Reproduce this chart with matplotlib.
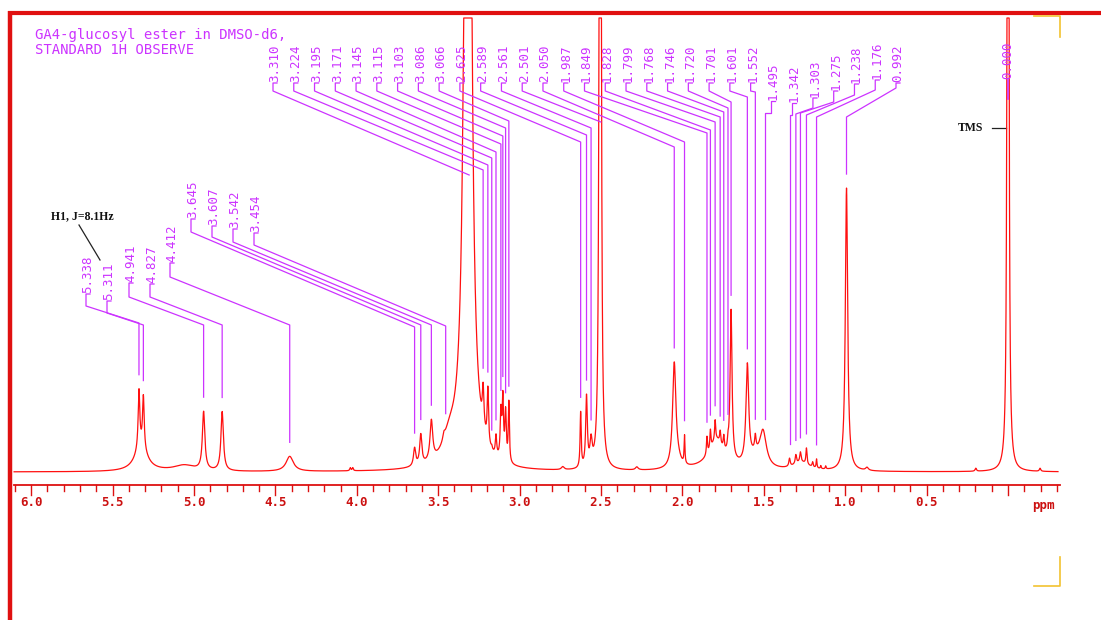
import numpy as np
import matplotlib.pyplot as plt

# --- peaks: centre (ppm), height (px above baseline), half width (ppm)
pk_ppm = [5.338, 5.311, 5.325, 5.06,
          4.941, 4.827, 4.412, 4.040, 4.025,
          3.645, 3.607, 3.542, 3.465, 3.43,
          3.318,
          3.224, 3.195, 3.171, 3.145, 3.115, 3.103, 3.086, 3.066,
          2.735, 2.625, 2.589, 2.561, 2.505, 2.28,
          2.050, 2.03, 1.987,
          1.849, 1.828, 1.799, 1.768, 1.746, 1.720, 1.79, 1.80, 1.701,
          1.601, 1.552, 1.555, 1.505,
          1.342, 1.303, 1.275, 1.238, 1.20, 1.176, 1.27, 1.15, 1.12,
          0.992, 0.866, 0.198, 0.0, -0.197]
pk_height = [58, 52, 24, 6,
             58, 59, 15, 3, 3,
             18, 30, 40, 6, 22,
             1680,
             40, 55, 3, 20, 45, 60, 48, 60,
             3, 55, 70, 24, 7500, 3,
             103, 7, 28,
             18, 19, 20, 12, 13, 8, 24, 6, 150,
             98, 14, 10, 35,
             8, 9, 10, 16, 5, 9, 8, 3, 3,
             283, 3, 3, 4000, 3]
pk_width = [0.006, 0.006, 0.045, 0.08,
            0.009, 0.009, 0.027, 0.004, 0.004,
            0.008, 0.008, 0.010, 0.008, 0.05,
            0.0158,
            0.006, 0.005, 0.004, 0.005, 0.005, 0.005, 0.005, 0.004,
            0.010, 0.004, 0.006, 0.008, 0.002, 0.010,
            0.012, 0.025, 0.003,
            0.004, 0.004, 0.004, 0.004, 0.004, 0.004, 0.05, 0.12, 0.007,
            0.010, 0.005, 0.04, 0.025,
            0.005, 0.005, 0.005, 0.004, 0.004, 0.003, 0.06, 0.003, 0.003,
            0.0085, 0.010, 0.005, 0.0025, 0.005]

# picked shifts
shifts_top = ['3.310', '3.224', '3.195', '3.171', '3.145', '3.115', '3.103', '3.086',
              '3.066', '2.625', '2.589', '2.561', '2.501', '2.050', '1.987', '1.849',
              '1.828', '1.799', '1.768', '1.746', '1.720', '1.701', '1.601', '1.552',
              '1.495', '1.342', '1.303', '1.275', '1.238', '1.176', '0.992']
shifts_low = ['5.338', '5.311', '4.941', '4.827', '4.412', '3.645', '3.607', '3.542', '3.454']
tick_major = [6.0, 5.5, 5.0, 4.5, 4.0, 3.5, 3.0, 2.5, 2.0, 1.5, 1.0, 0.5]

# --- label layout (pixel rows in the 1101x620 picture)
top_text_bottom = [82] * 24 + [100, 102, 97, 90, 83, 79, 82]
top_stub = [91] * 24 + [113, 115, 108, 102, 95, 90, 88]
top_knee = [175, 170, 165, 158, 152, 144, 136, 128, 121, 142, 135, 128, 122, 147, 142,
            133, 130, 122, 117, 112, 108, 102, 97, 92, 113, 115, 114, 113, 115, 117, 117]
low_x_px = [88, 109, 131, 152, 172, 193, 214, 235, 256]
low_text_bottom = [293, 300, 282, 283, 262, 218, 225, 228, 232]
low_stub = [306, 313, 297, 297, 277, 232, 237, 242, 245]
low_knee = [323, 325, 325, 325, 325, 327, 325, 325, 326]

PX = 162.8          # pixels per ppm
X0 = 1008.0         # pixel column of 0 ppm
BASE = 472.0        # pixel row of the baseline
CLIP = 454.0        # off-scale peaks are cut flat here


def ppm_of(xpx):
    return (X0 - xpx) / PX


def hgt(ypx):
    return BASE - ypx


MAG = '#CC33FF'
RED = '#FF1010'

# spectrum from the peak list
x = np.linspace(6.105, -0.307, 14000)
y = np.zeros_like(x)
for c, h, w in zip(pk_ppm, pk_height, pk_width):
    y += h * w**2 / (w**2 + (x - c)**2)
y = np.minimum(y, CLIP)

fig = plt.figure(figsize=(11.01, 6.20), dpi=100)
deco = fig.add_axes([0, 0, 1, 1])
deco.set_xlim(0, 1101)
deco.set_ylim(620, 0)
deco.axis('off')
ax = fig.add_axes([0, 0, 1, 1])
ax.set_xlim(ppm_of(0), ppm_of(1101))
ax.set_ylim(hgt(620), hgt(0))
ax.axis('off')

# frame like the printout
deco.plot([8, 1101], [13, 13], color='#E01010', lw=3.0, solid_capstyle='butt')
deco.plot([10, 10], [11, 620], color='#E01010', lw=3.2, solid_capstyle='butt')
yel = '#F2C230'
deco.plot([1034, 1060, 1060], [16, 16, 37], color=yel, lw=1.2)
deco.plot([1060, 1060, 1034], [557, 586, 586], color=yel, lw=1.2)

ax.plot(x, y, color=RED, lw=0.9, zorder=3)

# axis
ax.plot([6.105, -0.32], [hgt(485), hgt(485)], color='#DD1111', lw=1.3)
minor = np.round(np.arange(6.1, -0.35, -0.1), 1)
for t in minor:
    tall = abs(t * 2 - round(t * 2)) < 1e-6
    ax.plot([t, t], [hgt(485), hgt(495 if tall else 491)], color='#DD1111', lw=1.0)
for t in tick_major:
    ax.text(t, hgt(503), f'{t:.1f}', ha='center', va='center', color='#CC1111',
            fontsize=9, family='DejaVu Sans Mono', fontweight='bold')
ax.text(ppm_of(1043), hgt(505), 'ppm', ha='center', va='center', color='#CC1111',
        fontsize=9, family='DejaVu Sans Mono', fontweight='bold')

# title
deco.text(35, 35, 'GA4-glucosyl ester in DMSO-d6,', color=MAG, fontsize=10,
          family='DejaVu Sans Mono', va='center', ha='left')
deco.text(35, 50, 'STANDARD 1H OBSERVE', color=MAG, fontsize=10,
          family='DejaVu Sans Mono', va='center', ha='left')


def local_top(p):
    sel = np.abs(x - p) < 0.003
    return y[sel].max()


def draw_label(txt, xt, yb, ys, yk):
    p = float(txt)
    xs = xt + 2 / PX
    ax.text(xt, hgt(yb), txt, rotation=90, ha='center', va='bottom', color=MAG,
            fontsize=9, family='DejaVu Sans Mono', zorder=5)
    end = BASE - (local_top(p) + 14)
    xs_line = [xt - 2 / PX, xs, xs, p]
    ys_line = [yb + 1, yb + 1, ys, yk]
    if end > yk + 1:
        xs_line.append(p)
        ys_line.append(end)
    ax.plot(xs_line, [hgt(v) for v in ys_line], color=MAG, lw=0.9, zorder=4)


top_x = np.linspace(ppm_of(275), ppm_of(898), len(shifts_top))
for i, s in enumerate(shifts_top):
    draw_label(s, top_x[i], top_text_bottom[i], top_stub[i], top_knee[i])
for i, s in enumerate(shifts_low):
    draw_label(s, ppm_of(low_x_px[i]), low_text_bottom[i], low_stub[i], low_knee[i])

# TMS label sits on its own peak
ax.text(0.0, hgt(79), '0.000', rotation=90, ha='center', va='bottom', color=MAG,
        fontsize=9, family='DejaVu Sans Mono', zorder=5)
ax.plot([0.0, 0.0], [hgt(80), hgt(99)], color=MAG, lw=1.2, zorder=5)

# hand annotations
ax.text(ppm_of(82), hgt(216), 'H1, J=8.1Hz', ha='center', va='center', color='#111111',
        fontsize=8.5, family='Liberation Serif', fontweight='bold')
ax.plot([ppm_of(79), ppm_of(100)], [hgt(225), hgt(260)], color='#222222', lw=0.9)
ax.text(ppm_of(971), hgt(128), 'TMS', ha='center', va='center', color='#111111',
        fontsize=8.5, family='Liberation Serif', fontweight='bold')
ax.plot([ppm_of(992), ppm_of(1006)], [hgt(128), hgt(128)], color='#222222', lw=0.9)

fig.savefig('out.png', dpi=100, facecolor='white')
